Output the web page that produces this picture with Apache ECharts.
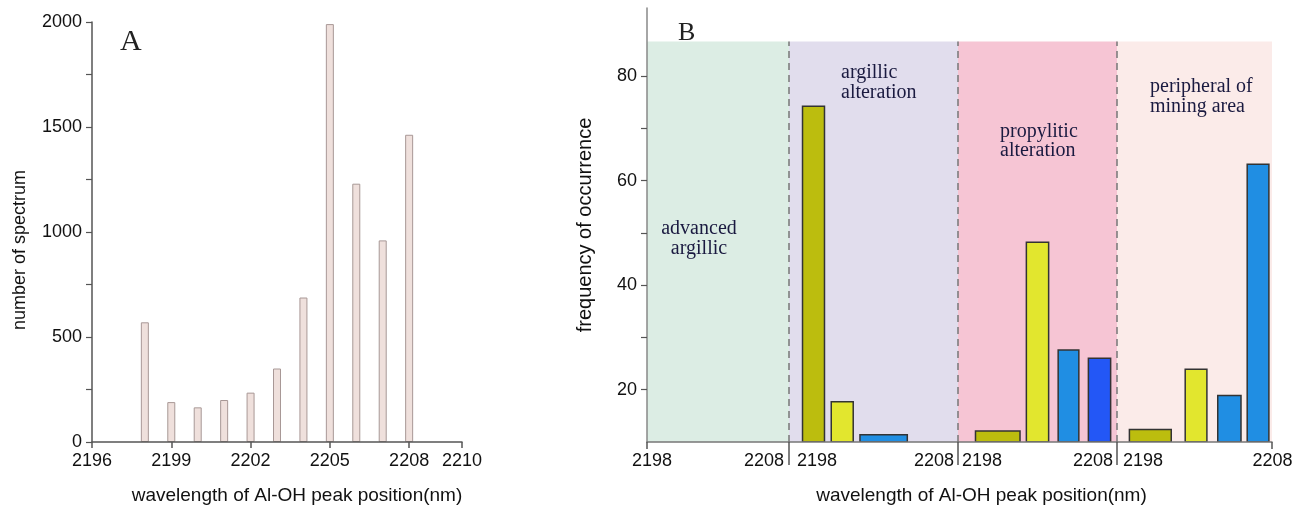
<!DOCTYPE html>
<html>
<head>
<meta charset="utf-8">
<script src="https://cdn.jsdelivr.net/npm/echarts@6/dist/echarts.min.js"></script>
<style>
  html, body { margin: 0; padding: 0; background: #ffffff; }
  #chart { width: 1304px; height: 510px; }
</style>
</head>
<body>
<div id="chart"></div>
<script>
// ---- Panel A: number of spectra per Al-OH absorption peak position ----
const wavelengthsA = [2198, 2199, 2200, 2201, 2202, 2203, 2204, 2205, 2206, 2207, 2208];
const spectrumCounts = [570, 190, 165, 200, 235, 350, 688, 1990, 1230, 960, 1463];
const yLabelsA = [0, 500, 1000, 1500, 2000];

// ---- Panel B: frequency of occurrence within each alteration zone ----
// every bin: [from (nm), to (nm), frequency, wavelength class]
const zoneNames = ['advanced\nargillic', 'argillic\nalteration', 'propylitic\nalteration', 'peripheral of\nmining area'];
const advancedArgillicBins = [];
const argillicBins = [
  [2198.8, 2200.1, 74.2, 0],
  [2200.5, 2201.8, 17.7, 1],
  [2202.2, 2205.0, 11.4, 2]
];
const propyliticBins = [
  [2199.1, 2201.9, 12.1, 0],
  [2202.3, 2203.7, 48.2, 1],
  [2204.3, 2205.6, 27.6, 2],
  [2206.2, 2207.6, 26.0, 3]
];
const peripheralBins = [
  [2198.8, 2201.5, 12.4, 0],
  [2202.4, 2203.8, 23.9, 1],
  [2204.5, 2206.0, 18.9, 2],
  [2206.4, 2207.8, 63.1, 2]
];
const segmentTicks = [2198, 2208];
const yTicksB = [20, 30, 40, 50, 60, 70, 80];
const yLabelsB = [20, 40, 60, 80];

// ---- styling ----
const SANS = '"Liberation Sans", Arial, sans-serif';
const SERIF = '"Liberation Serif", "Times New Roman", serif';
const classColors = ['#bcbd0e', '#e2e62e', '#208ee3', '#2357f6'];
const zoneColors = ['#dcede4', '#e1dded', '#f6c5d4', '#fbebe9'];
const yMinB = 10, yMaxB = 93, bandTopB = 86.6;
const plain = v => String(v);

const chart = echarts.init(document.getElementById('chart'), null, { renderer: 'canvas' });

const segGrids = [
  { left: 647, width: 142 },
  { left: 789, width: 169 },
  { left: 958, width: 159 },
  { left: 1117, width: 155 }
];
const segBins = [advancedArgillicBins, argillicBins, propyliticBins, peripheralBins];
const segLabelAlign = [
  ['center', 'right'],
  ['left', 'right'],
  ['left', 'right'],
  ['left', 'center']
];
const segLabelPad = [
  [0, 5, 0, 15],
  [0, 4, 0, 8],
  [0, 4, 0, 4],
  [0, 5, 0, 6]
];

const grids = [{ left: 92, width: 370, top: 22, height: 420 }];
segGrids.forEach(g => grids.push({ left: g.left, width: g.width, top: 8, height: 434 }));

const xAxes = [{
  type: 'value', gridIndex: 0, min: 2196, max: 2210, interval: 3,
  axisLine: { show: true, onZero: false, lineStyle: { color: '#555', width: 1.5 } },
  axisTick: { show: true, length: 6, lineStyle: { color: '#555', width: 1.5 } },
  axisLabel: { color: '#111', fontSize: 18, fontFamily: SANS, margin: 10, formatter: plain, showMinLabel: true, showMaxLabel: true },
  splitLine: { show: false },
  name: 'wavelength of Al-OH peak position(nm)',
  nameLocation: 'middle', nameGap: 44,
  nameTextStyle: { color: '#111', fontSize: 19, fontFamily: SANS, padding: [0, 0, 0, 40] },
  z: 5
}];
segGrids.forEach((g, i) => {
  xAxes.push({
    type: 'value', gridIndex: i + 1, min: segmentTicks[0], max: segmentTicks[1], interval: 10,
    axisLine: { show: true, onZero: false, lineStyle: { color: '#777', width: 1.5 } },
    axisTick: { show: true, customValues: [segmentTicks[0]], length: i === 0 ? 7 : 23, lineStyle: { color: '#555', width: 1.5 } },
    axisLabel: {
      color: '#111', fontSize: 18, fontFamily: SANS, margin: 10, formatter: plain,
      showMinLabel: true, showMaxLabel: true,
      alignMinLabel: segLabelAlign[i][0], alignMaxLabel: segLabelAlign[i][1],
      padding: segLabelPad[i]
    },
    splitLine: { show: false },
    name: i === 2 ? 'wavelength of Al-OH peak position(nm)' : '',
    nameLocation: 'middle', nameGap: 44,
    nameTextStyle: { color: '#111', fontSize: 19, fontFamily: SANS, padding: [0, 112, 0, 0] },
    z: 5
  });
});
// closing tick at the right end of the broken axis
xAxes.push({
  type: 'value', gridIndex: 4, position: 'bottom', min: segmentTicks[0], max: segmentTicks[1], interval: 10,
  axisLine: { show: false, onZero: false },
  axisTick: { show: true, customValues: [segmentTicks[1]], length: 7, lineStyle: { color: '#555', width: 1.5 } },
  axisLabel: { show: false },
  splitLine: { show: false },
  z: 5
});

const yAxes = [{
  type: 'value', gridIndex: 0, min: 0, max: 2000, interval: 250,
  axisLine: { show: true, lineStyle: { color: '#555', width: 1.5 } },
  axisTick: { show: true, length: 6, lineStyle: { color: '#555', width: 1.2 } },
  axisLabel: {
    color: '#111', fontSize: 18, fontFamily: SANS, margin: 10,
    formatter: v => (yLabelsA.indexOf(v) >= 0 ? String(v) : '')
  },
  splitLine: { show: false },
  name: 'number of spectrum', nameLocation: 'middle', nameGap: 63,
  nameTextStyle: { color: '#111', fontSize: 18, fontFamily: SANS, padding: [0, 36, 0, 0] },
  z: 5
}];
segGrids.forEach((g, i) => {
  yAxes.push(i === 0 ? {
    type: 'value', gridIndex: 1, min: yMinB, max: yMaxB,
    axisLine: { show: true, lineStyle: { color: '#888', width: 1.5 } },
    axisTick: { show: true, customValues: yTicksB, length: 6, lineStyle: { color: '#555', width: 1.2 } },
    axisLabel: { color: '#111', fontSize: 18, fontFamily: SANS, margin: 10, customValues: yLabelsB },
    splitLine: { show: false },
    name: 'frequency of occurrence', nameLocation: 'middle', nameGap: 52,
    nameTextStyle: { color: '#111', fontSize: 20, fontFamily: SANS },
    z: 5
  } : {
    type: 'value', gridIndex: i + 1, min: yMinB, max: yMaxB, show: false
  });
});

const series = [{
  type: 'bar', xAxisIndex: 0, yAxisIndex: 0, barWidth: 8,
  data: wavelengthsA.map((w, i) => [w, spectrumCounts[i]]),
  itemStyle: { color: '#efe0dc', borderColor: '#a89896', borderWidth: 1 },
  silent: true
}];

segBins.forEach((bins, i) => {
  const s = {
    type: 'custom', xAxisIndex: i + 1, yAxisIndex: i + 1,
    data: bins,
    encode: { x: [0, 1], y: 2 },
    clip: true,
    silent: true,
    z: 3,
    renderItem: (params, api) => {
      const top = api.coord([api.value(0), api.value(2)]);
      const base = api.coord([api.value(1), yMinB]);
      return {
        type: 'rect',
        shape: { x: top[0], y: top[1], width: base[0] - top[0], height: base[1] - top[1] },
        style: { fill: classColors[api.value(3)], stroke: '#333', lineWidth: 1.5 }
      };
    },
    markArea: {
      silent: true,
      itemStyle: { color: zoneColors[i] },
      label: { show: false },
      data: [[{ coord: [segmentTicks[0], yMinB] }, { coord: [segmentTicks[1], bandTopB] }]]
    }
  };
  if (i > 0) {
    s.markLine = {
      silent: true, symbol: 'none',
      label: { show: false },
      lineStyle: { color: '#777', width: 1.5, type: [7, 5] },
      data: [[{ coord: [segmentTicks[0], yMinB] }, { coord: [segmentTicks[0], bandTopB] }]]
    };
  }
  series.push(s);
});

const zoneLabelPos = [
  { top: 219, align: 'center', x: 699, lh: 20 },
  { top: 62, align: 'left', x: 841, lh: 20.5 },
  { top: 122, align: 'left', x: 1000, lh: 19 },
  { top: 77, align: 'left', x: 1150, lh: 19.5 }
];

const graphics = [
  { type: 'text', left: 120, top: 27, style: { text: 'A', font: '30px ' + SERIF, fill: '#222' } },
  { type: 'text', left: 678, top: 20, style: { text: 'B', font: '26px ' + SERIF, fill: '#222' } }
];
zoneNames.forEach((t, i) => {
  const p = zoneLabelPos[i];
  graphics.push({
    type: 'text', x: p.x, y: p.top,
    style: {
      text: t, font: '20px ' + SERIF, fill: '#1a1a40',
      align: p.align, verticalAlign: 'top', lineHeight: p.lh
    },
    z: 10
  });
});

chart.setOption({
  animation: false,
  backgroundColor: '#ffffff',
  grid: grids,
  xAxis: xAxes,
  yAxis: yAxes,
  series: series,
  graphic: graphics
});
</script>
</body>
</html>
